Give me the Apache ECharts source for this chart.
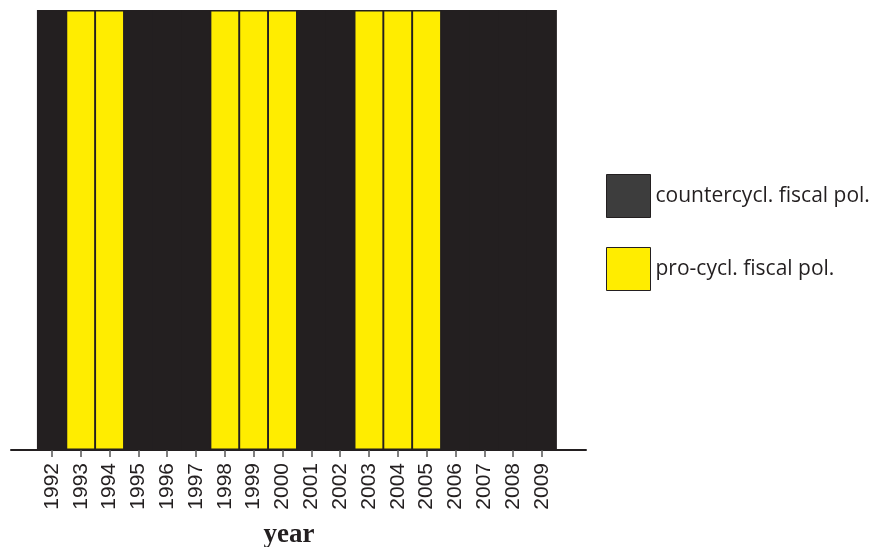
<!DOCTYPE html>
<html>
<head>
<meta charset="utf-8">
<script src="https://cdn.jsdelivr.net/npm/echarts@6/dist/echarts.min.js"></script>
<style>
  html, body { margin: 0; padding: 0; background: #ffffff; }
  #chart { width: 871px; height: 547px; }
</style>
</head>
<body>
<div id="chart"></div>
<script>
// Fiscal policy stance per year (full-height classification bars)
const years = [1992, 1993, 1994, 1995, 1996, 1997, 1998, 1999, 2000,
               2001, 2002, 2003, 2004, 2005, 2006, 2007, 2008, 2009];
const stance = ['counter', 'pro', 'pro', 'counter', 'counter', 'counter', 'pro', 'pro', 'pro',
                'counter', 'counter', 'pro', 'pro', 'pro', 'counter', 'counter', 'counter', 'counter'];
const seriesNames = ['countercycl. fiscal pol.', 'pro-cycl. fiscal pol.'];
const stanceKeys = ['counter', 'pro'];
const barColors = ['#231f20', '#ffed00'];
const legendColors = ['#3d3d3d', '#ffed00'];

const ink = '#231f20';

// Dark bars are drawn first without outline; yellow bars on top get a dark outline
const series = stanceKeys.map(function (key, i) {
  return {
    name: seriesNames[i],
    type: 'bar',
    barWidth: 30,
    barGap: '-100%',
    z: 2 + i,
    itemStyle: {
      color: barColors[i],
      borderColor: ink,
      borderWidth: key === 'pro' ? 1.5 : 0
    },
    data: years.map(function (y, j) { return stance[j] === key ? [y, 1] : [y, null]; }),
    silent: true,
    animation: false
  };
});

const chart = echarts.init(document.getElementById('chart'), null, { renderer: 'canvas' });
chart.setOption({
  animation: false,
  backgroundColor: '#ffffff',
  title: {
    text: 'year',
    left: 289,
    top: 522,
    textAlign: 'center',
    padding: 0,
    textStyle: {
      fontFamily: 'Liberation Serif',
      fontWeight: 'bold',
      fontSize: 27,
      color: ink
    }
  },
  legend: {
    orient: 'vertical',
    left: 606,
    top: 174,
    padding: 0,
    itemWidth: 44,
    itemHeight: 43,
    itemGap: 29,
    icon: 'rect',
    selectedMode: false,
    textStyle: { fontFamily: 'Open Sans', fontSize: 21, color: ink, padding: [0, 0, 2, 0] },
    data: seriesNames.map(function (n, i) {
      return { name: n, itemStyle: { color: legendColors[i], borderColor: ink, borderWidth: 1 } };
    })
  },
  grid: { left: 11, right: 285, top: 10, bottom: 97, containLabel: false },
  xAxis: {
    type: 'value',
    min: 1990.58,
    max: 2010.53,
    splitLine: { show: false },
    axisLine: { show: true, onZero: true, lineStyle: { color: ink, width: 2 } },
    axisTick: {
      show: true,
      length: 7,
      customValues: years,
      lineStyle: { color: '#555555', width: 1.5 }
    },
    axisLabel: {
      show: true,
      customValues: years,
      rotate: 90,
      margin: 13,
      fontFamily: 'Liberation Sans',
      fontSize: 21,
      color: ink,
      formatter: function (v) { return String(v); }
    }
  },
  yAxis: {
    type: 'value',
    min: 0,
    max: 1,
    show: false
  },
  series: series
});
</script>
</body>
</html>
